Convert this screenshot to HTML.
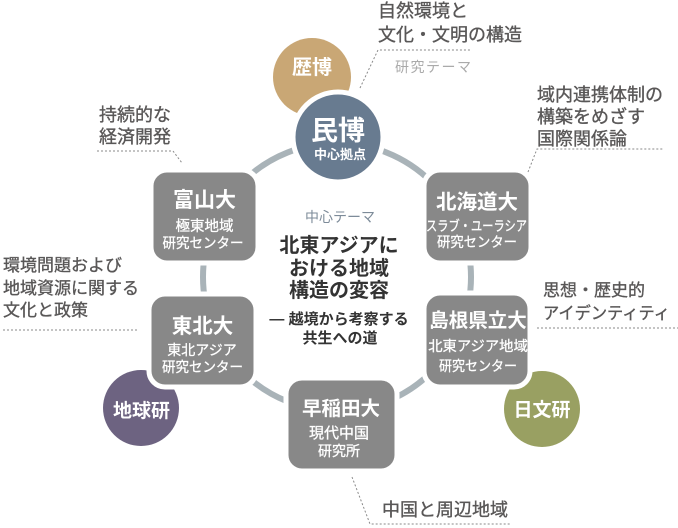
<!DOCTYPE html>
<html><head><meta charset="utf-8"><style>
html,body{margin:0;padding:0;background:#fff;}
svg{display:block;}
text{font-family:"Liberation Sans","Noto Sans CJK JP",sans-serif;}
.th{fill:#595757;font-size:18px;stroke:#595757;stroke-width:0.35;}
.w{fill:#fff;text-anchor:middle;}
.ws{stroke:#fff;stroke-width:0.3;}
.b{font-weight:bold;}
.c{fill:#333;text-anchor:middle;}
.d{stroke:#8a8a8a;stroke-width:1;stroke-dasharray:2 2;fill:none;}
</style></head><body>
<svg width="678" height="528" viewBox="0 0 678 528" xmlns="http://www.w3.org/2000/svg">
<!-- ring -->
<circle cx="337" cy="277" r="134" fill="none" stroke="#a9b3b8" stroke-width="6"/>

<!-- dashed connectors -->
<polyline class="d" points="360,88 378,50 470,50"/>
<polyline class="d" points="528,172 537,149 663,149"/>
<polyline class="d" points="97,151 173,151 182,163"/>
<polyline class="d" points="3,330 137,330"/>
<polyline class="d" points="537,328 678,328"/>
<polyline class="d" points="352,477 370,524 510,524"/>

<!-- outer small circles -->
<circle cx="312" cy="77" r="39" fill="#c9a775"/>
<circle cx="542" cy="409" r="38" fill="#99a062"/>
<circle cx="141" cy="408" r="38" fill="#6d6381"/>

<!-- boxes -->
<g fill="#888888" stroke="#fff" stroke-width="5">
<rect x="151" y="170" width="107" height="93" rx="16"/>
<rect x="424" y="170" width="107" height="93" rx="16"/>
<rect x="149" y="294" width="107" height="93" rx="16"/>
<rect x="424" y="293" width="106" height="94" rx="16"/>
<rect x="286" y="378" width="111" height="93" rx="16"/>
</g>

<!-- center circle -->
<circle cx="338" cy="137" r="45" fill="#687b90" stroke="#fff" stroke-width="5"/>

<!-- theme texts -->
<text class="th" x="378" y="17">自然環境と</text>
<text class="th" x="378" y="41">文化・文明の構造</text>
<text x="395" y="72" fill="#aaaaaa" font-size="14" letter-spacing="1.5">研究テーマ</text>

<text class="th" x="537" y="101" font-size="18.5">域内連携体制の</text>
<text class="th" x="537" y="123" font-size="18.5">構築をめざす</text>
<text class="th" x="537" y="145" font-size="18.5">国際関係論</text>

<text class="th" x="99" y="121">持続的な</text>
<text class="th" x="99" y="143">経済開発</text>

<text class="th" x="3" y="271" style="font-size:17px">環境問題および</text>
<text class="th" x="3" y="294" style="font-size:17px">地域資源に関する</text>
<text class="th" x="3" y="316" style="font-size:17px">文化と政策</text>

<text class="th" x="543" y="296" style="font-size:17px">思想・歴史的</text>
<text class="th" x="543" y="319" style="font-size:17px" textLength="127" lengthAdjust="spacingAndGlyphs">アイデンティティ</text>

<text class="th" x="382" y="516">中国と周辺地域</text>

<!-- center text -->
<text x="340" y="222" fill="#7d8b99" font-size="14" text-anchor="middle">中心テーマ</text>
<text class="c b" x="339" y="252" font-size="20">北東アジアに</text>
<text class="c b" x="339" y="275" font-size="20">おける地域</text>
<text class="c b" x="339" y="297" font-size="20">構造の変容</text>
<text class="c" x="339" y="324" font-size="15" font-weight="bold" fill="#444">― 越境から考察する</text>
<text class="c" x="340" y="343" font-size="15" font-weight="bold" fill="#444">共生への道</text>

<!-- node texts -->
<text class="w b" x="338" y="140" font-size="27">民博</text>
<text class="w" x="340" y="159" font-size="13" font-weight="bold">中心拠点</text>

<text class="w b" x="312" y="74" font-size="20">歴博</text>
<text class="w b" x="542" y="416" font-size="19">日文研</text>
<text class="w b" x="141.5" y="417" font-size="19">地球研</text>

<text class="w b" x="204.5" y="207" font-size="21">富山大</text>
<text class="w ws" x="204.5" y="231" font-size="14.5">極東地域</text>
<text class="w ws" x="203" y="248" font-size="14" textLength="81" lengthAdjust="spacingAndGlyphs">研究センター</text>

<text class="w b" x="477" y="209" font-size="20.5">北海道大</text>
<text class="w ws" x="476.5" y="231" font-size="14" textLength="101" lengthAdjust="spacingAndGlyphs">スラブ・ユーラシア</text>
<text class="w ws" x="477" y="247" font-size="14" textLength="80" lengthAdjust="spacingAndGlyphs">研究センター</text>

<text class="w b" x="478" y="327" font-size="19.5">島根県立大</text>
<text class="w ws" x="478" y="351" font-size="14.3">北東アジア地域</text>
<text class="w ws" x="478" y="371" font-size="14" textLength="78" lengthAdjust="spacingAndGlyphs">研究センター</text>

<text class="w b" x="202.5" y="333" font-size="20.5">東北大</text>
<text class="w ws" x="202" y="355" font-size="14">東北アジア</text>
<text class="w ws" x="202.5" y="372" font-size="14" textLength="81" lengthAdjust="spacingAndGlyphs">研究センター</text>

<text class="w b" x="341" y="415" font-size="19.5">早稲田大</text>
<text class="w ws" x="339" y="438" font-size="15">現代中国</text>
<text class="w ws" x="339" y="456" font-size="14">研究所</text>
</svg>
</body></html>
